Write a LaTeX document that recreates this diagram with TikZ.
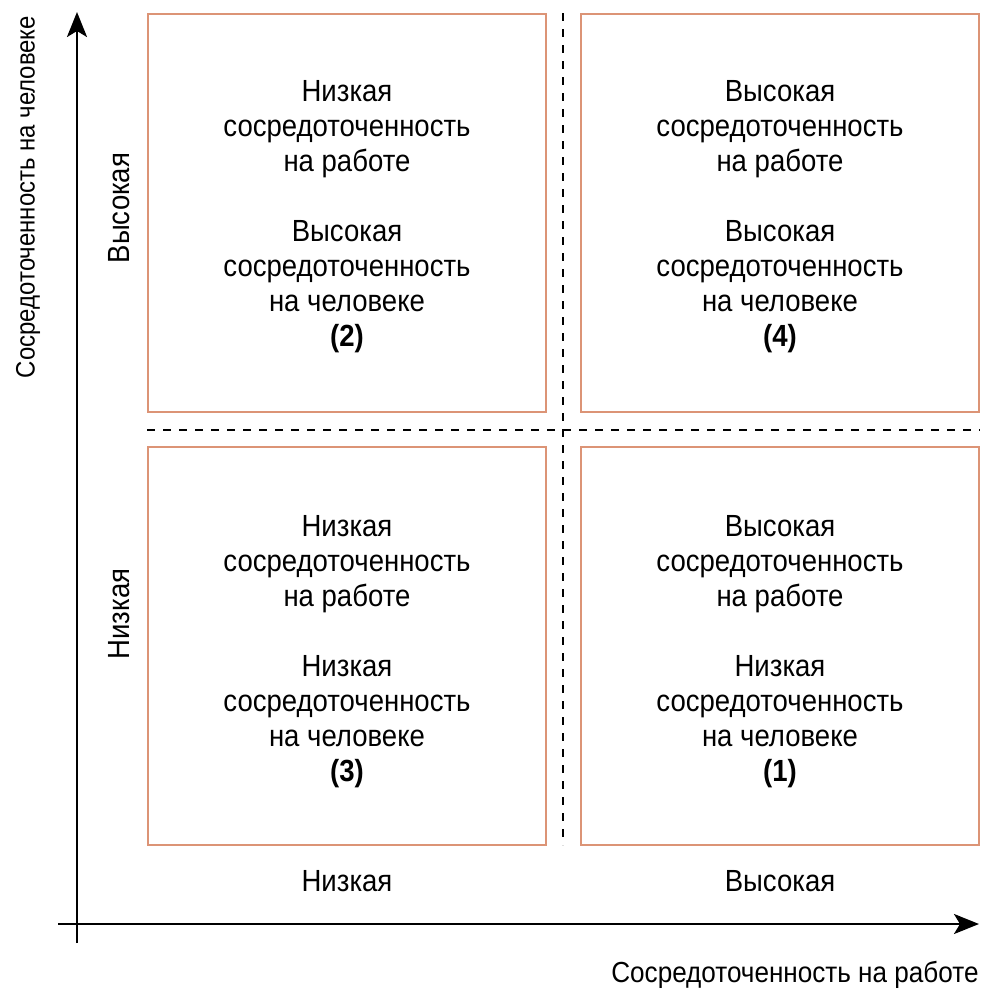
\documentclass[tikz,border=0pt]{standalone}
\usepackage{fontspec}
\setmainfont{Liberation Sans}[FakeStretch=0.9]
\usetikzlibrary{arrows.meta}
\definecolor{boxc}{RGB}{220,148,118}
\begin{document}
\begin{tikzpicture}[x=0.5pt,y=-0.5pt,
 quad/.style={draw=boxc,line width=1pt,minimum width=199pt,minimum height=199pt,inner sep=0pt,outer sep=0pt},
 qtext/.style={anchor=north,align=center,inner sep=0pt,font=\fontsize{15.3}{17.5}\selectfont},
 lab/.style={font=\fontsize{15.3}{17.5}\selectfont,inner sep=0pt},
 xttl/.style={font=\fontsize{14.5}{16}\selectfont,inner sep=0pt},
 yttl/.style={font=\fontsize{13.3}{16}\selectfont,inner sep=0pt},
 axis/.style={line width=1.25pt,-{Stealth[length=12.5pt,width=10pt,inset=3pt]}},
 sep/.style={line width=1.45pt,dash pattern=on 4pt off 4pt}]
\useasboundingbox (0,0) rectangle (986,992);
% quadrants
\node[quad] (q2) at (347,213) {};
\node[quad] (q4) at (780,213) {};
\node[quad] (q3) at (347,645.5) {};
\node[quad] (q1) at (780,645.5) {};
% quadrant texts
\node[qtext] (t2) at (347,80) {Низкая\\сосредоточенность\\на работе\\[17.5pt]Высокая\\сосредоточенность\\на человеке\\\textbf{(2)}};
\node[qtext] (t4) at (780,80) {Высокая\\сосредоточенность\\на работе\\[17.5pt]Высокая\\сосредоточенность\\на человеке\\\textbf{(4)}};
\node[qtext] (t3) at (347,515) {Низкая\\сосредоточенность\\на работе\\[17.5pt]Низкая\\сосредоточенность\\на человеке\\\textbf{(3)}};
\node[qtext] (t1) at (780,515) {Высокая\\сосредоточенность\\на работе\\[17.5pt]Низкая\\сосредоточенность\\на человеке\\\textbf{(1)}};
% separators
\coordinate (vt) at (563,13);
\coordinate (vb) at (563,845);
\coordinate (hl) at (147,430);
\coordinate (hr) at (980,430);
\draw[sep] (vt) -- (vb);
\draw[sep] (hl) -- (hr);
% axes
\coordinate (yb) at (77,943);
\coordinate (ytop) at (77,12);
\coordinate (xl) at (58,924);
\coordinate (xr) at (979,924);
\draw[axis] (yb) -- (ytop);
\draw[axis] (xl) -- (xr);
% axis labels
\node[lab,anchor=base] (xlow) at (347,891) {Низкая};
\node[lab,anchor=base] (xhigh) at (780,891) {Высокая};
\node[xttl,anchor=base east] (xtitle) at (979,982) {Сосредоточенность на работе};
\node[yttl,rotate=90] (ytitle) at (28,197) {Сосредоточенность на человеке};
\node[lab,rotate=90] (yhigh) at (119,208) {Высокая};
\node[lab,rotate=90] (ylow) at (119,614) {Низкая};
\end{tikzpicture}
\end{document}
